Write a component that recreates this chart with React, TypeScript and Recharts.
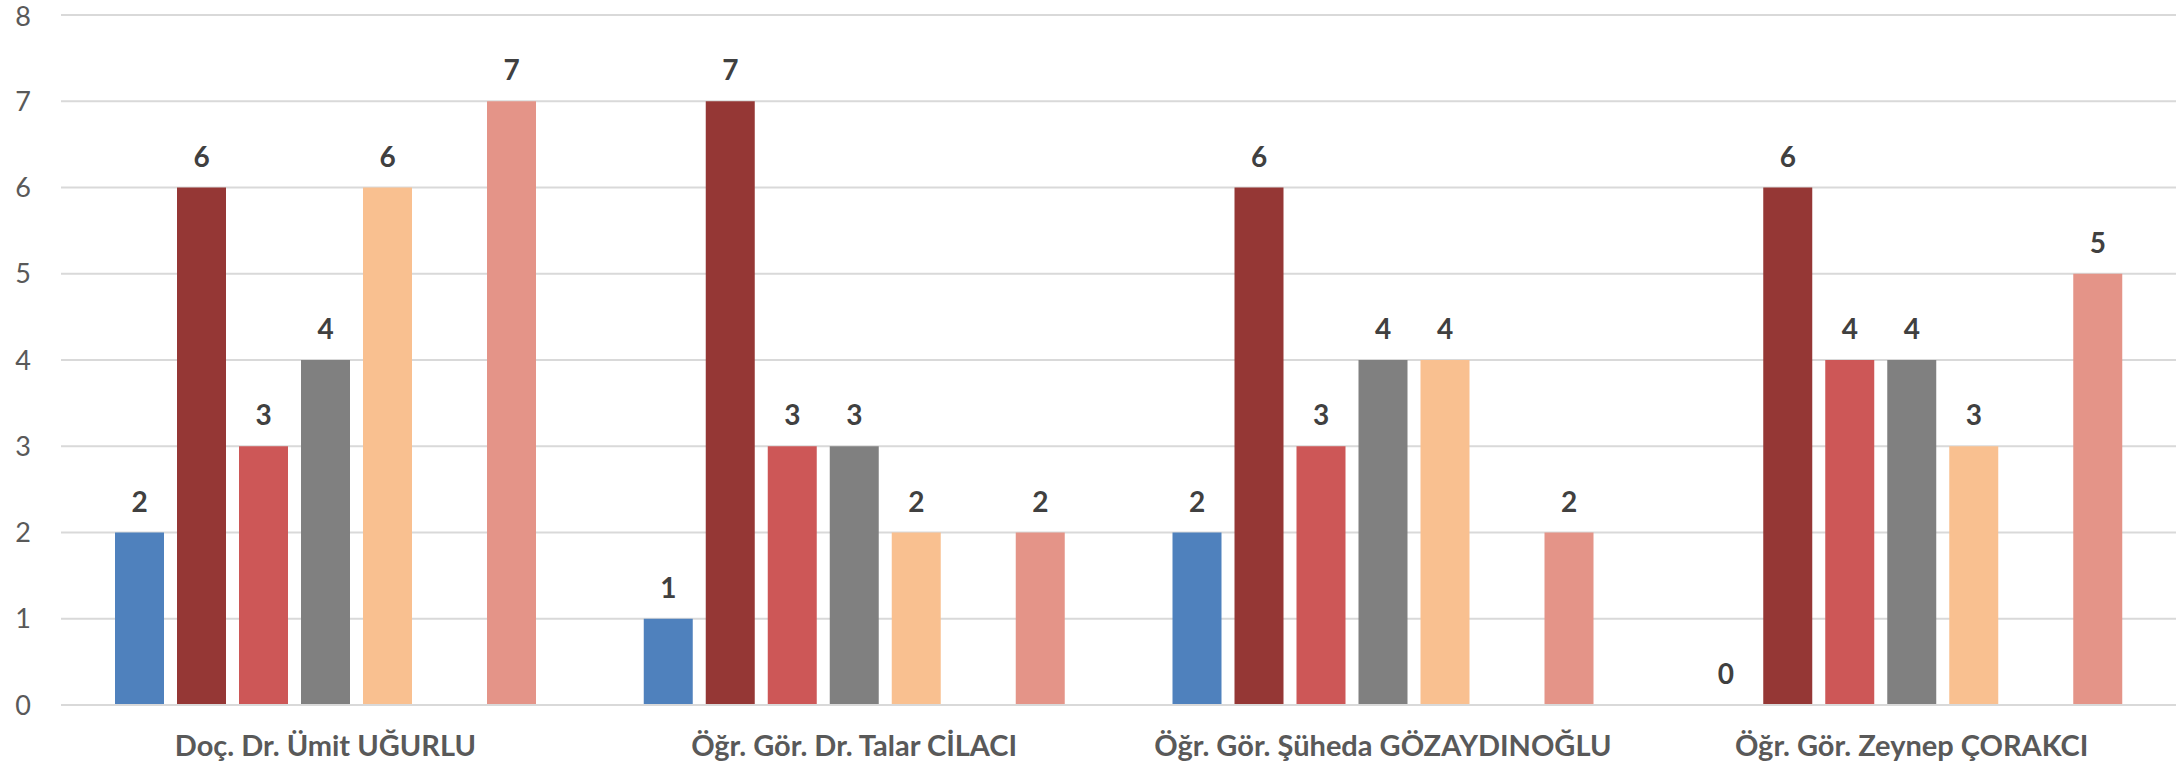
import React from 'react';
import { BarChart, Bar, XAxis, YAxis, CartesianGrid, LabelList } from 'recharts';

// categories (instructors)
const categories = [
  'Doç. Dr. Ümit UĞURLU',
  'Öğr. Gör. Dr. Talar CİLACI',
  'Öğr. Gör. Şüheda GÖZAYDINOĞLU',
  'Öğr. Gör. Zeynep ÇORAKCI',
];

// series values
const seriesBlue = [2, 1, 2, 0];
const seriesDarkRed = [6, 7, 6, 6];
const seriesRed = [3, 3, 3, 4];
const seriesGray = [4, 3, 4, 4];
const seriesPeach = [6, 2, 4, 3];
const seriesEmpty = [null, null, null, null]; // slot kept, nothing drawn
const seriesSalmon = [7, 2, 2, 5];

const yTicks = [0, 1, 2, 3, 4, 5, 6, 7, 8];

const series = [
  { key: 's1', values: seriesBlue, color: '#4F81BD' },
  { key: 's2', values: seriesDarkRed, color: '#953735' },
  { key: 's3', values: seriesRed, color: '#CD5757' },
  { key: 's4', values: seriesGray, color: '#808080' },
  { key: 's5', values: seriesPeach, color: '#F9C090' },
  { key: 's6', values: seriesEmpty, color: '#4BACC6' },
  { key: 's7', values: seriesSalmon, color: '#E49488' },
];

const data = categories.map((name, i) => {
  const row: Record<string, any> = { name };
  series.forEach(s => {
    row[s.key] = s.values[i];
  });
  return row;
});

const FONT = 'Lato, "Open Sans", sans-serif';

// zero values still need their "0" label, so give them a hairline height
const zeroMin = (value: any) => (value === 0 ? 0.01 : 0);

const App: React.FC = () => {
  return (
    <div style={{ position: 'absolute', left: 0, top: 0, fontFamily: FONT }}>
      <BarChart
        width={2183}
        height={764}
        data={data}
        margin={{ top: 15, right: 7, left: 0, bottom: 0 }}
        barCategoryGap={54}
        barGap={13}
      >
        <CartesianGrid vertical={false} stroke="#D9D9D9" strokeWidth={2} />
        <XAxis
          dataKey="name"
          height={59}
          axisLine={{ stroke: '#D9D9D9', strokeWidth: 2 }}
          tickLine={false}
          tickSize={0}
          tickMargin={30}
          interval={0}
          tick={{ fontFamily: FONT, fontSize: 29, fontWeight: 700, fill: '#595959' }}
        />
        <YAxis
          width={61}
          domain={[0, 8]}
          ticks={yTicks}
          axisLine={false}
          tickLine={false}
          tickSize={0}
          tickMargin={30}
          tick={{ fontFamily: FONT, fontSize: 27, fill: '#595959' }}
        />
        {series.map(s => (
          <Bar
            key={s.key}
            dataKey={s.key}
            fill={s.color}
            minPointSize={zeroMin}
            isAnimationActive={false}
          >
            {s.key !== 's6' && (
              <LabelList
                dataKey={s.key}
                position="top"
                offset={21}
                style={{ fontFamily: FONT, fontSize: 28, fontWeight: 700, fill: '#404040' }}
              />
            )}
          </Bar>
        ))}
      </BarChart>
    </div>
  );
};

export default App;
